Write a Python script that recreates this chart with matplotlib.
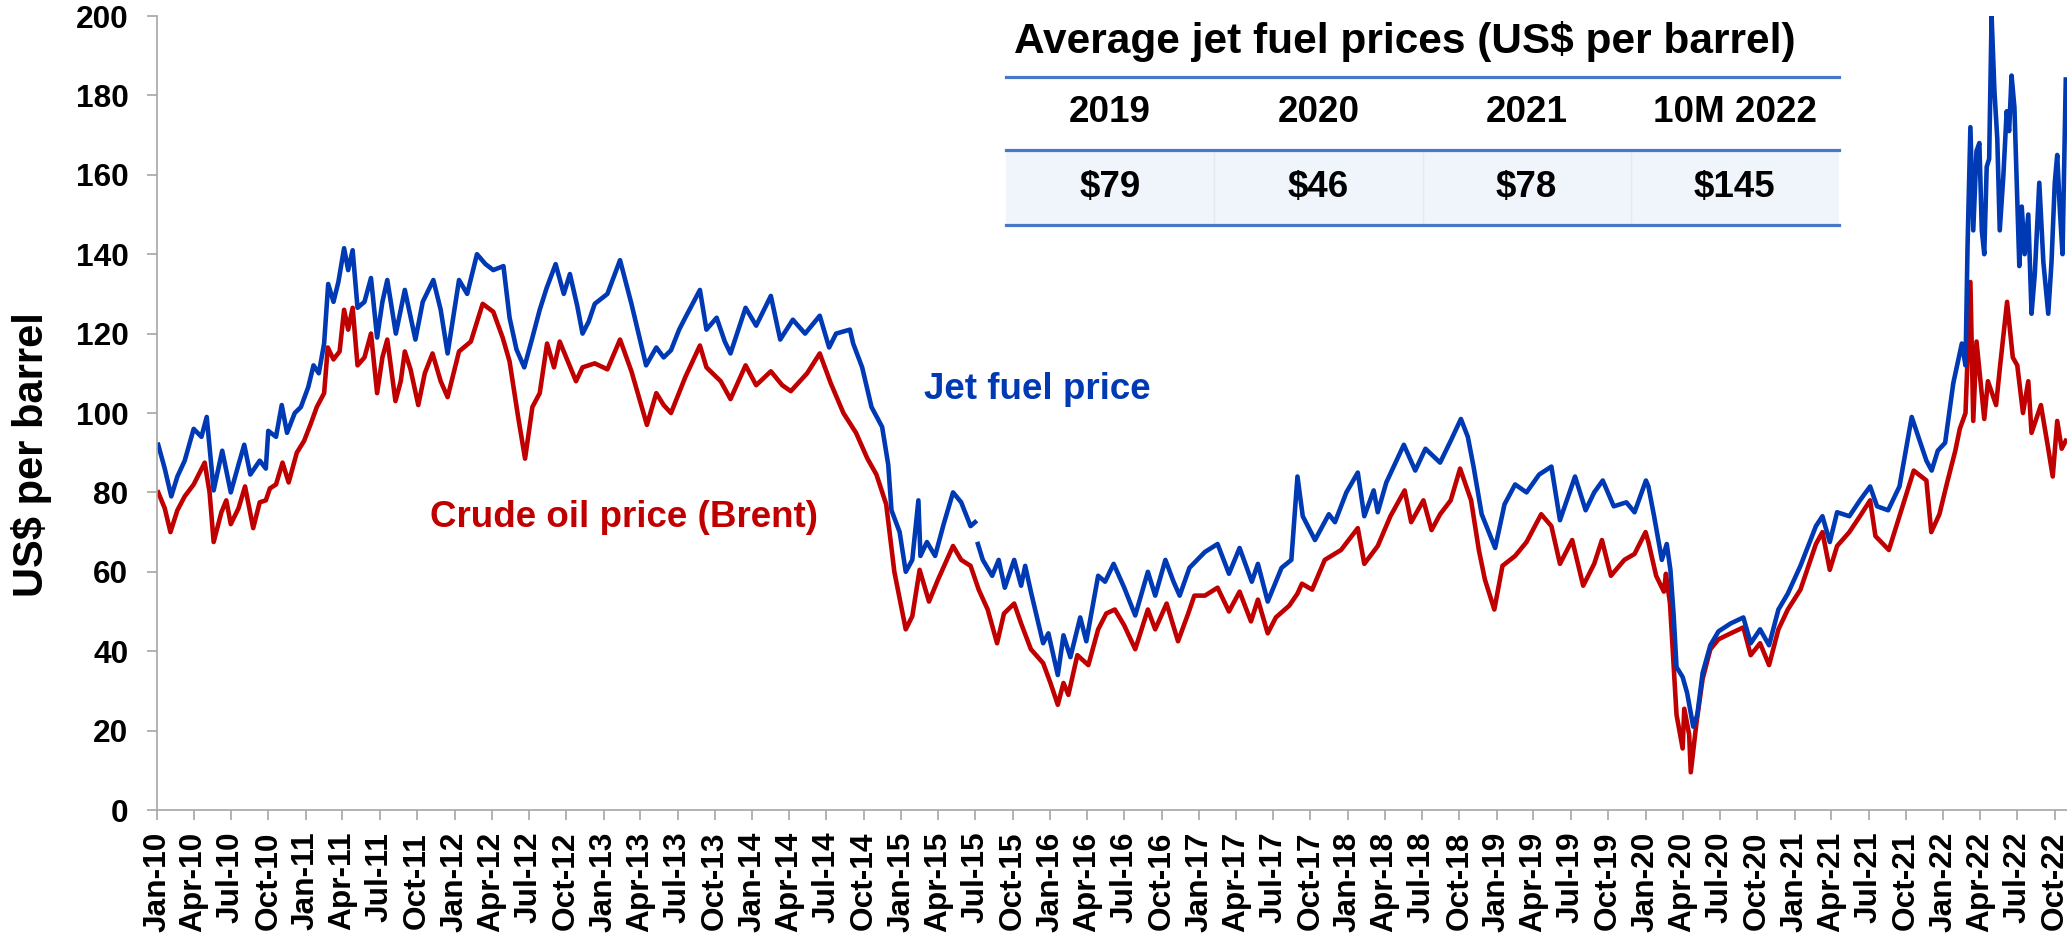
import numpy as np
import pandas as pd
import matplotlib
matplotlib.use("Agg")
import matplotlib.pyplot as plt
import matplotlib.dates as mdates
from matplotlib.lines import Line2D
from matplotlib.patches import Rectangle

plt.rcParams['font.family'] = ['Liberation Sans', 'DejaVu Sans']
plt.rcParams['font.weight'] = 'bold'

# jet fuel price, US$ per barrel; nan = gap in the series
jet_dates = [
  '2010-01-04', '2010-01-20', '2010-02-05', '2010-02-20', '2010-03-10', '2010-04-01', '2010-04-20', '2010-05-03',
  '2010-05-20', '2010-06-10', '2010-07-01', '2010-07-20', '2010-08-03', '2010-08-18', '2010-09-10', '2010-09-25',
  '2010-10-01', '2010-10-20', '2010-11-03', '2010-11-16', '2010-12-05', '2010-12-20', '2011-01-07', '2011-01-20',
  '2011-02-02', '2011-02-15', '2011-02-25', '2011-03-10', '2011-03-22', '2011-04-05', '2011-04-15', '2011-04-26',
  '2011-05-08', '2011-05-25', '2011-06-10', '2011-06-25', '2011-07-08', '2011-07-20', '2011-08-10', '2011-08-22',
  '2011-09-01', '2011-09-27', '2011-10-15', '2011-11-10', '2011-11-28', '2011-12-15', '2012-01-12', '2012-02-01',
  '2012-02-25', '2012-03-17', '2012-04-05', '2012-04-30', '2012-05-15', '2012-06-01', '2012-06-20', '2012-07-10',
  '2012-07-28', '2012-08-14', '2012-09-05', '2012-09-25', '2012-10-10', '2012-10-28', '2012-11-10', '2012-11-25',
  '2012-12-10', '2013-01-10', '2013-02-10', '2013-03-10', '2013-04-15', '2013-05-10', '2013-05-28', '2013-06-15',
  '2013-07-05', '2013-07-20', '2013-08-25', '2013-09-10', '2013-10-05', '2013-10-25', '2013-11-08', '2013-12-15',
  '2014-01-10', '2014-02-15', '2014-03-10', '2014-04-10', '2014-05-10', '2014-06-15', '2014-07-08', '2014-07-25',
  '2014-08-28', '2014-09-05', '2014-09-27', '2014-10-20', '2014-11-15', '2014-11-30', '2014-12-08', '2014-12-28',
  '2015-01-12', '2015-01-28', '2015-02-12', '2015-02-17', '2015-03-05', '2015-03-25', '2015-04-15', '2015-05-08',
  '2015-05-28', '2015-06-20', '2015-07-01', '2015-07-04', '2015-07-08', '2015-07-20', '2015-08-12', '2015-08-28',
  '2015-09-12', '2015-10-05', '2015-10-22', '2015-11-01', '2015-11-15', '2015-12-15', '2015-12-28', '2016-01-20',
  '2016-02-03', '2016-02-20', '2016-03-15', '2016-03-30', '2016-04-28', '2016-05-15', '2016-06-05', '2016-07-01',
  '2016-07-28', '2016-08-28', '2016-09-15', '2016-10-10', '2016-10-30', '2016-11-14', '2016-12-08', '2017-01-15',
  '2017-02-15', '2017-03-15', '2017-04-10', '2017-05-10', '2017-05-25', '2017-06-18', '2017-07-22', '2017-08-15',
  '2017-08-30', '2017-09-12', '2017-10-12', '2017-11-15', '2017-11-30', '2017-12-28', '2018-01-25', '2018-02-10',
  '2018-03-05', '2018-03-15', '2018-04-05', '2018-05-18', '2018-06-15', '2018-07-10', '2018-08-15', '2018-09-10',
  '2018-10-05', '2018-10-22', '2018-11-05', '2018-11-25', '2018-12-28', '2019-01-20', '2019-02-15', '2019-03-15',
  '2019-04-15', '2019-05-15', '2019-06-05', '2019-07-12', '2019-08-07', '2019-08-28', '2019-09-18', '2019-10-15',
  '2019-11-15', '2019-12-05', '2020-01-02', '2020-01-08', '2020-01-22', '2020-02-10', '2020-02-22', '2020-03-02',
  '2020-03-10', '2020-03-17', '2020-04-01', '2020-04-12', '2020-04-27', '2020-05-07', '2020-05-20', '2020-06-08',
  '2020-06-28', '2020-07-28', '2020-08-28', '2020-09-15', '2020-10-08', '2020-10-30', '2020-11-22', '2020-12-15',
  '2021-01-15', '2021-02-22', '2021-03-10', '2021-03-28', '2021-04-15', '2021-05-15', '2021-06-10', '2021-07-05',
  '2021-07-22', '2021-08-18', '2021-09-15', '2021-10-15', '2021-11-20', '2021-12-03', '2021-12-18', '2022-01-05',
  '2022-01-25', '2022-02-15', '2022-02-24', '2022-03-01', '2022-03-08', '2022-03-15', '2022-03-23', '2022-03-30',
  '2022-04-05', '2022-04-11', '2022-04-17', '2022-04-23', '2022-04-29', '2022-05-06', '2022-05-13', '2022-05-19',
  '2022-05-28', '2022-06-05', '2022-06-11', '2022-06-17', '2022-06-24', '2022-07-06', '2022-07-12', '2022-07-19',
  '2022-07-28', '2022-08-05', '2022-08-13', '2022-08-24', '2022-09-03', '2022-09-15', '2022-09-23', '2022-10-01',
  '2022-10-07', '2022-10-13', '2022-10-20', '2022-10-28',
]
jet_price = [
  92, 86, 79, 84, 88, 96, 94, 99,
  80.5, 90.5, 80, 87, 92, 84.5, 88, 86,
  95.5, 94, 102, 95, 100, 101.5, 106.5, 112,
  110, 117.5, 132.5, 128, 133, 141.5, 136, 141,
  126.5, 128, 134, 119, 128, 133.5, 120, 126,
  131, 118.5, 128, 133.5, 126, 115, 133.5, 130,
  140, 137.5, 136, 137, 124, 116, 111.5, 119,
  126, 131.5, 137.5, 130, 135, 127, 120, 123,
  127.5, 130, 138.5, 127.5, 112, 116.5, 114, 115.8,
  121, 124, 131, 121, 124, 118, 115, 126.5,
  122, 129.5, 118.5, 123.5, 120, 124.5, 116.5, 120,
  121, 117.5, 111.5, 101.5, 96.5, 87, 75.5, 70,
  60, 63, 78, 64, 67.5, 64, 72, 80,
  77.5, 71.5, 72.5, np.nan, 67, 63, 59, 63,
  56, 63, 56.5, 61.5, 55, 42, 44.5, 34,
  44, 38.5, 48.5, 42.5, 59, 57.5, 62, 56,
  49, 60, 54, 63, 57.5, 54, 61, 65,
  67, 59.5, 66, 57.5, 62, 52.5, 61, 63,
  84, 74, 68, 74.5, 72.5, 80, 85, 74,
  80.5, 75, 82.5, 92, 85.5, 91, 87.5, 93,
  98.5, 94, 86.5, 74.5, 66, 77, 82, 80,
  84.5, 86.5, 73, 84, 75.5, 80, 83, 76.5,
  77.5, 75, 83, 81.5, 74, 63, 67, 60.5,
  49, 36, 33.5, 29.5, 21, 24, 34.5, 41.5,
  45, 47, 48.5, 42, 45.5, 41.5, 50.5, 54.5,
  61.5, 71.5, 74, 67.5, 75, 74, 78, 81.5,
  76.5, 75.5, 81.5, 99, 88, 85.5, 90.5, 92.5,
  107.5, 117.5, 112, 142, 172, 146, 166, 168,
  146, 140, 162, 164, 200, 181, 169, 146,
  160, 176, 171, 185, 177, 137, 152, 140,
  150, 125, 135, 158, 138, 125, 138, 158,
  165, 152, 140, 184,
]

# Brent crude oil price, US$ per barrel
brent_dates = [
  '2010-01-04', '2010-01-20', '2010-02-03', '2010-02-20', '2010-03-10', '2010-04-01', '2010-04-28', '2010-05-10',
  '2010-05-20', '2010-06-08', '2010-06-20', '2010-07-01', '2010-07-20', '2010-08-05', '2010-08-25', '2010-09-10',
  '2010-09-25', '2010-10-05', '2010-10-20', '2010-11-05', '2010-11-20', '2010-12-10', '2010-12-28', '2011-01-14',
  '2011-01-28', '2011-02-15', '2011-02-24', '2011-03-10', '2011-03-25', '2011-04-05', '2011-04-15', '2011-04-26',
  '2011-05-08', '2011-05-25', '2011-06-10', '2011-06-25', '2011-07-08', '2011-07-20', '2011-08-09', '2011-08-22',
  '2011-09-01', '2011-09-15', '2011-10-04', '2011-10-20', '2011-11-08', '2011-11-28', '2011-12-15', '2012-01-12',
  '2012-02-10', '2012-03-10', '2012-04-05', '2012-04-28', '2012-05-15', '2012-06-05', '2012-06-22', '2012-07-10',
  '2012-07-28', '2012-08-15', '2012-09-01', '2012-09-15', '2012-10-25', '2012-11-10', '2012-12-10', '2013-01-10',
  '2013-02-10', '2013-03-10', '2013-04-17', '2013-05-10', '2013-05-28', '2013-06-15', '2013-07-20', '2013-08-25',
  '2013-09-10', '2013-10-15', '2013-11-08', '2013-12-15', '2014-01-10', '2014-02-15', '2014-03-15', '2014-04-05',
  '2014-05-15', '2014-06-15', '2014-07-12', '2014-08-12', '2014-09-12', '2014-10-10', '2014-11-01', '2014-11-25',
  '2014-12-15', '2015-01-12', '2015-01-28', '2015-02-15', '2015-03-10', '2015-04-01', '2015-05-08', '2015-05-28',
  '2015-06-20', '2015-07-10', '2015-08-01', '2015-08-24', '2015-09-10', '2015-10-05', '2015-10-22', '2015-11-15',
  '2015-12-15', '2016-01-02', '2016-01-20', '2016-02-03', '2016-02-15', '2016-03-08', '2016-04-04', '2016-04-28',
  '2016-05-18', '2016-06-08', '2016-07-01', '2016-07-28', '2016-08-28', '2016-09-15', '2016-10-13', '2016-11-10',
  '2016-12-05', '2016-12-20', '2017-01-15', '2017-02-15', '2017-03-15', '2017-04-10', '2017-05-08', '2017-05-25',
  '2017-06-18', '2017-07-08', '2017-08-10', '2017-08-30', '2017-09-10', '2017-10-05', '2017-11-05', '2017-12-15',
  '2018-01-25', '2018-02-10', '2018-03-15', '2018-04-15', '2018-05-20', '2018-06-05', '2018-07-05', '2018-07-25',
  '2018-08-15', '2018-09-10', '2018-10-03', '2018-10-30', '2018-11-18', '2018-12-03', '2018-12-26', '2019-01-15',
  '2019-02-15', '2019-03-15', '2019-04-20', '2019-05-15', '2019-06-05', '2019-07-05', '2019-08-01', '2019-08-28',
  '2019-09-16', '2019-10-08', '2019-11-10', '2019-12-05', '2020-01-01', '2020-01-08', '2020-01-27', '2020-02-15',
  '2020-02-20', '2020-03-01', '2020-03-10', '2020-03-17', '2020-04-01', '2020-04-05', '2020-04-17', '2020-04-21',
  '2020-05-05', '2020-05-20', '2020-06-08', '2020-06-28', '2020-07-28', '2020-08-28', '2020-09-15', '2020-10-08',
  '2020-10-30', '2020-11-22', '2020-12-15', '2021-01-15', '2021-02-22', '2021-03-10', '2021-03-28', '2021-04-15',
  '2021-05-15', '2021-06-10', '2021-07-05', '2021-07-18', '2021-08-20', '2021-09-15', '2021-10-20', '2021-11-20',
  '2021-12-02', '2021-12-22', '2022-01-10', '2022-01-30', '2022-02-10', '2022-02-24', '2022-03-08', '2022-03-15',
  '2022-03-23', '2022-04-11', '2022-04-20', '2022-05-10', '2022-05-20', '2022-06-06', '2022-06-20', '2022-07-01',
  '2022-07-15', '2022-07-28', '2022-08-05', '2022-08-28', '2022-09-15', '2022-09-26', '2022-10-07', '2022-10-18',
  '2022-10-28',
]
brent_price = [
  80, 76, 70, 75.5, 79, 82, 87.5, 80,
  67.5, 75, 78, 72, 76, 81.5, 71, 77.5,
  78, 81, 82, 87.5, 82.5, 90, 93, 97.5,
  101.5, 105, 116.5, 113.5, 115.5, 126, 121, 126.5,
  112, 114, 120, 105, 114, 118.5, 103, 108,
  115.5, 111, 102, 110, 115, 108, 104, 115.5,
  118, 127.5, 125.5, 119, 113, 99, 88.5, 101.5,
  105, 117.5, 111.5, 118, 108, 111.5, 112.5, 111,
  118.5, 110.5, 97, 105, 102, 100, 109, 117,
  111.5, 108, 103.5, 112, 107, 110.5, 107, 105.5,
  110, 115, 107.5, 100, 95, 88.5, 84.5, 77,
  60, 45.5, 48.8, 60.5, 52.5, 58, 66.5, 63,
  61.5, 55.5, 50.5, 42, 49.5, 52, 47, 40.5,
  37, 32, 26.5, 32, 29, 39, 36.5, 45.5,
  49.5, 50.5, 46.5, 40.5, 50.5, 45.5, 52, 42.5,
  49.5, 54, 54, 56, 50, 55, 47.5, 53,
  44.5, 48.5, 51.5, 54.5, 57, 55.5, 63, 65.5,
  71, 62, 66.5, 74, 80.5, 72.5, 78, 70.5,
  74.5, 78, 86, 78, 65.5, 58, 50.5, 61.5,
  64, 67.5, 74.5, 71.5, 62, 68, 56.5, 62,
  68, 59, 63, 64.5, 70, 67.5, 59, 55,
  59.5, 52, 36, 24, 15.5, 25.5, 19, 9.5,
  22, 33, 40.5, 43, 44.5, 46, 39, 42,
  36.5, 45.5, 50.5, 55.5, 67, 70, 60.5, 66.5,
  70, 74, 78, 69, 65.5, 74, 85.5, 83,
  70, 74.5, 82.5, 90.5, 96, 100, 133, 98,
  118, 98.5, 108, 102, 112, 128, 114, 112,
  100, 108, 95, 102, 91, 84, 98, 91,
  93,
]

# table inset
table_title = 'Average jet fuel prices (US$ per barrel)'
table_years = ['2019', '2020', '2021', '10M 2022']
table_values = ['$79', '$46', '$78', '$145']

BLUE = '#0039B4'
RED = '#C00000'
GREY = '#A6A6A6'
TBL_LINE = '#4A78C8'

W, H = 2067, 938
fig = plt.figure(figsize=(W / 100, H / 100), dpi=100)

def fx(x):
  return x / W

def fy(y):
  return 1 - y / H

ax = fig.add_axes([fx(157), fy(810), fx(2067) - fx(157), fy(16) - fy(810)])

jet = pd.Series(jet_price, index=pd.to_datetime(jet_dates))
brent = pd.Series(brent_price, index=pd.to_datetime(brent_dates))

ax.plot(brent.index, brent.values, color=RED, lw=3.3, solid_joinstyle='round')
ax.plot(jet.index, jet.values, color=BLUE, lw=3.3, solid_joinstyle='round')

ax.set_xlim(pd.Timestamp('2010-01-01'), pd.Timestamp('2022-10-31'))
ax.set_ylim(0, 200)
ax.set_yticks(range(0, 201, 20))

ax.xaxis.set_major_locator(mdates.MonthLocator(bymonth=[1, 4, 7, 10]))
ax.xaxis.set_major_formatter(mdates.DateFormatter('%b-%y'))

for s in ['top', 'right']:
  ax.spines[s].set_visible(False)
for s in ['left', 'bottom']:
  ax.spines[s].set_color(GREY)
  ax.spines[s].set_linewidth(1.2)

ax.tick_params(axis='y', direction='out', length=7.2, width=1.2, color=GREY,
               labelsize=22.8, pad=13.5)
ax.tick_params(axis='x', direction='out', length=7.2, width=1.2, color=GREY,
               labelsize=22.8, pad=8.5, labelrotation=90)
for lab in ax.get_xticklabels() + ax.get_yticklabels():
  lab.set_fontweight('bold')

fig.text(fx(32), fy(455), 'US$ per barrel', rotation=90, fontsize=30,
         fontweight='bold', ha='center', va='center')

# series labels
fig.text(fx(924), fy(399), 'Jet fuel price', color=BLUE, fontsize=26.5,
         fontweight='bold', ha='left', va='baseline')
fig.text(fx(430), fy(527), 'Crude oil price (Brent)', color=RED, fontsize=26.5,
         fontweight='bold', ha='left', va='baseline')

# table
x0, x1 = 1006, 1839
col_w = (x1 - x0) / len(table_years)
fig.text(fx(1405), fy(42), table_title, fontsize=30.5, fontweight='bold',
         ha='center', va='center')
fig.add_artist(Rectangle((fx(x0), fy(225)), fx(x1) - fx(x0), fy(150) - fy(225),
                         transform=fig.transFigure, facecolor='#EFF5FB',
                         edgecolor='none'))
for i in range(1, len(table_years)):
  xs = x0 + i * col_w
  fig.add_artist(Line2D([fx(xs), fx(xs)], [fy(151), fy(224)], color='#E2EAF3',
                        lw=1, transform=fig.transFigure))
for yy in [77, 150, 225]:
  fig.add_artist(Line2D([fx(x0), fx(x1)], [fy(yy), fy(yy)], color=TBL_LINE,
                        lw=2.3, transform=fig.transFigure))
for i, (yr, val) in enumerate(zip(table_years, table_values)):
  xc = x0 + (i + 0.5) * col_w
  fig.text(fx(xc), fy(113), yr, fontsize=26.5, fontweight='bold', ha='center', va='center')
  fig.text(fx(xc), fy(187), val, fontsize=26.5, fontweight='bold', ha='center', va='center')

fig.savefig('out.png', dpi=100)
